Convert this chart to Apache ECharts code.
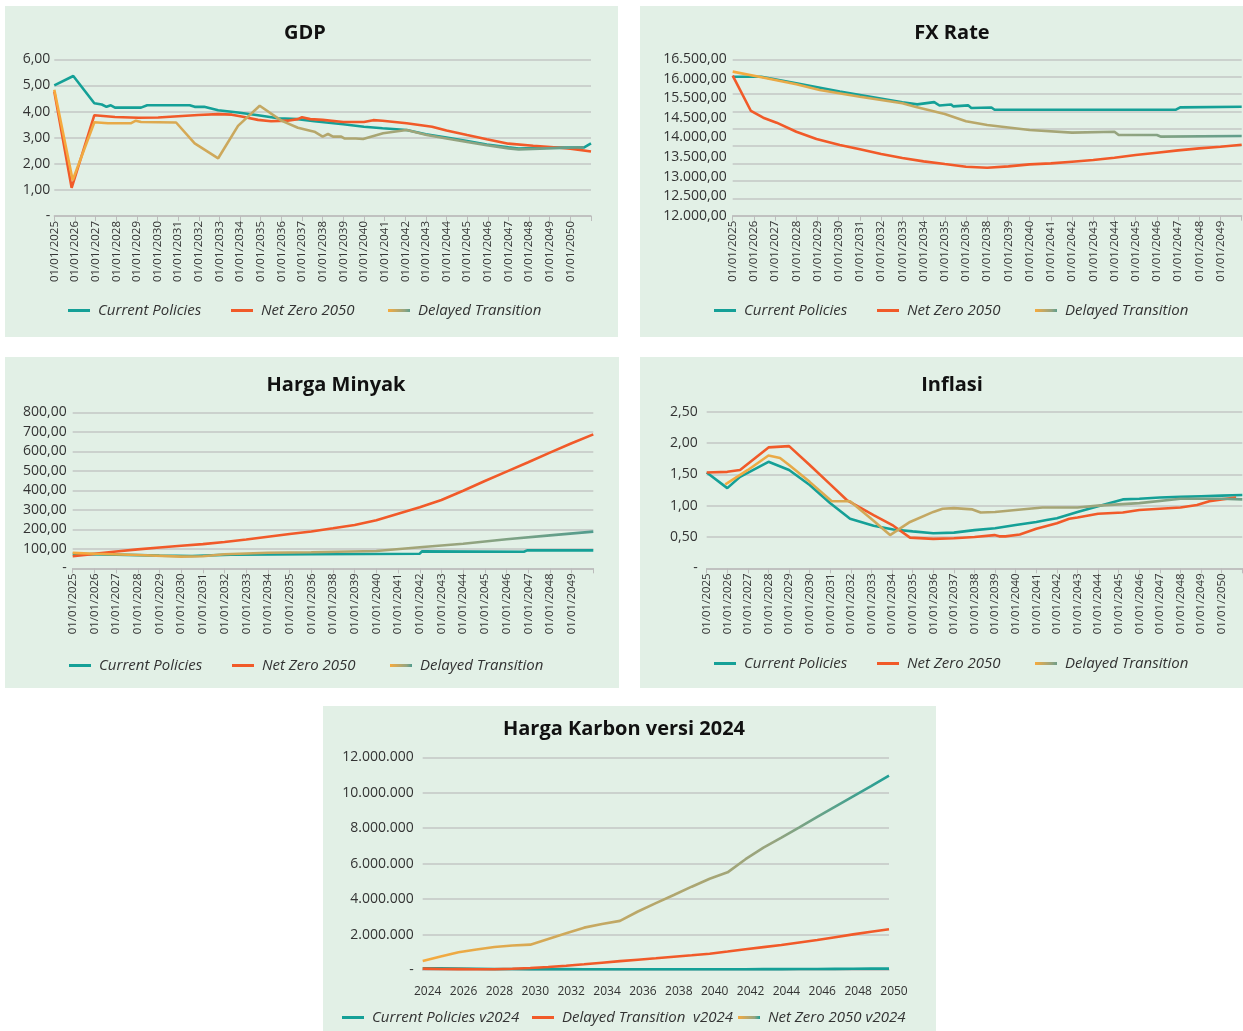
<!DOCTYPE html>
<html>
<head>
<meta charset="utf-8">
<script src="https://cdn.jsdelivr.net/npm/echarts@6/dist/echarts.min.js"></script>
<style>
  html, body { margin: 0; padding: 0; background: #ffffff; width: 1243px; height: 1031px; overflow: hidden; }
  .panel { position: absolute; background: #e2f0e6; }
</style>
</head>
<body>
<div id="gdp" class="panel" style="left:5px;top:6px;width:613px;height:331px"></div>
<div id="fx" class="panel" style="left:640px;top:6px;width:603px;height:331px"></div>
<div id="oil" class="panel" style="left:5px;top:357px;width:614px;height:331px"></div>
<div id="inf" class="panel" style="left:640px;top:357px;width:603px;height:331px"></div>
<div id="carbon" class="panel" style="left:323px;top:706px;width:613px;height:325px"></div>
<script>
// ---------- scenario names ----------
const SCENARIOS = ['Current Policies', 'Net Zero 2050', 'Delayed Transition'];
const CARBON_SCENARIOS = ['Current Policies v2024', 'Delayed Transition  v2024', 'Net Zero 2050 v2024'];

// ---------- date-axis tick labels (one slot per label, x = slot position) ----------
const GDP_X_YEARS = [2025, 2026, 2027, 2028, 2029, 2030, 2031, 2032, 2033, 2034, 2035, 2036, 2037,
  2038, 2039, 2040, 2041, 2042, 2043, 2044, 2045, 2046, 2047, 2048, 2049, 2050];
const FX_X_YEARS = [2025, 2026, 2027, 2028, 2029, 2030, 2031, 2032, 2033, 2034, 2035, 2036,
  2038, 2039, 2040, 2041, 2042, 2043, 2044, 2045, 2046, 2047, 2048, 2049];
const OIL_X_YEARS = [2025, 2026, 2027, 2028, 2029, 2030, 2031, 2032, 2033, 2034, 2035, 2036,
  2038, 2039, 2040, 2041, 2042, 2043, 2044, 2045, 2046, 2047, 2048, 2049];
const INF_X_YEARS = [2025, 2026, 2027, 2028, 2029, 2030, 2031, 2032, 2033, 2034, 2035, 2036, 2037,
  2038, 2039, 2040, 2041, 2042, 2043, 2044, 2045, 2046, 2047, 2048, 2049, 2050];
const CARBON_YEARS = ['2024', '2025', '2026', '2027', '2028', '2029', '2030', '2031', '2032', '2033',
  '2034', '2035', '2036', '2037', '2038', '2039', '2040', '2041', '2042', '2043', '2044', '2045',
  '2046', '2047', '2048', '2049', '2050'];

// ---------- value-axis tick labels (bottom to top) ----------
const GDP_Y_TICKS = ['-', '1,00', '2,00', '3,00', '4,00', '5,00', '6,00'];
const FX_Y_TICKS = ['12.000,00', '12.500,00', '13.000,00', '13.500,00', '14.000,00', '14.500,00',
  '15.500,00', '16.000,00', '16.500,00'];
const OIL_Y_TICKS = ['-', '100,00', '200,00', '300,00', '400,00', '500,00', '600,00', '700,00', '800,00'];
const INF_Y_TICKS = ['-', '0,50', '1,00', '1,50', '2,00', '2,50'];
const CARBON_Y_TICKS = ['-', '2.000.000', '4.000.000', '6.000.000', '8.000.000', '10.000.000', '12.000.000'];

// ---------- GDP (% growth), [slot, value] ----------
const GDP_CURRENT = [[0, 5.00], [0.92, 5.36], [1.94, 4.32], [2.3, 4.27], [2.53, 4.18], [2.74, 4.24],
  [2.94, 4.15], [4.2, 4.15], [4.5, 4.24], [6.56, 4.24], [6.8, 4.18], [7.26, 4.18], [7.94, 4.05],
  [8.9, 3.96], [9.87, 3.86], [10.84, 3.74], [11.8, 3.71], [12.6, 3.63], [14.0, 3.51], [15.0, 3.42],
  [15.9, 3.36], [17.07, 3.29], [18.0, 3.13], [19.0, 3.00], [20.0, 2.87], [20.95, 2.74], [22.0, 2.63],
  [22.5, 2.58], [23.2, 2.60], [24.2, 2.62], [25.65, 2.62], [26.0, 2.78]];
const GDP_NZ = [[0, 4.77], [0.84, 1.08], [1.94, 3.86], [2.94, 3.79], [4.07, 3.76], [5.03, 3.77],
  [6.0, 3.82], [6.97, 3.87], [7.94, 3.90], [8.6, 3.88], [9.07, 3.81], [9.87, 3.68], [10.5, 3.63],
  [11.3, 3.65], [11.8, 3.71], [12.0, 3.78], [12.4, 3.71], [13.0, 3.68], [14.0, 3.60], [15.0, 3.60],
  [15.45, 3.67], [15.9, 3.65], [17.07, 3.55], [18.3, 3.42], [19.0, 3.27], [20.0, 3.10], [20.95, 2.94],
  [22.0, 2.77], [23.2, 2.69], [24.2, 2.63], [25.0, 2.58], [26.0, 2.47]];
const GDP_DT = [[0, 4.83], [0.89, 1.37], [1.94, 3.59], [2.6, 3.55], [3.7, 3.55], [3.95, 3.65],
  [4.2, 3.60], [5.9, 3.58], [6.8, 2.78], [7.94, 2.21], [8.9, 3.45], [9.95, 4.22], [11.0, 3.65],
  [11.8, 3.38], [12.6, 3.23], [13.0, 3.04], [13.26, 3.14], [13.5, 3.04], [13.9, 3.04], [14.05, 2.97],
  [14.6, 2.97], [14.96, 2.95], [15.93, 3.17], [17.07, 3.29], [18.04, 3.10], [19.0, 2.97], [20.0, 2.83],
  [20.95, 2.71], [22.0, 2.59], [22.5, 2.55], [24.2, 2.60], [25.65, 2.63]];

// ---------- FX rate (IDR per USD), [slot, value] ----------
const FX_CURRENT = [[0, 16000], [1.35, 16000], [3, 15810], [5.05, 15570], [8, 15262], [8.7, 15204],
  [9.5, 15268], [9.75, 15170], [10.3, 15200], [10.4, 15145], [11.1, 15175], [11.25, 15100],
  [12.2, 15115], [12.35, 15050], [20.9, 15050], [21.1, 15118], [24, 15135]];
const FX_NZ = [[0, 16030], [0.86, 15013], [1.44, 14820], [2.07, 14677], [3, 14417], [3.95, 14206],
  [5.05, 14033], [6, 13909], [7, 13775], [8, 13659], [9, 13563], [10, 13486], [11, 13410], [12, 13380],
  [13, 13419], [14, 13477], [15, 13506], [16, 13554], [17, 13602], [18, 13669], [19, 13746],
  [20, 13813], [21, 13880], [22, 13938], [23, 13985], [24, 14043]];
const FX_DT = [[0, 16145], [1.36, 15982], [3, 15780], [4.1, 15617], [6, 15425], [8, 15233],
  [8.6, 15137], [10, 14926], [11, 14715], [12, 14610], [14, 14465], [16, 14390], [18, 14417],
  [18.2, 14321], [20, 14321], [20.2, 14274], [24, 14293]];

// ---------- Oil price (USD/bbl), [slot, value] ----------
const OIL_CURRENT = [[0, 74], [2, 70], [4, 65], [5.5, 63], [7.3, 70], [11, 72], [16, 75], [16.1, 87],
  [20.8, 85], [20.95, 92], [24, 92]];
const OIL_NZ = [[0, 62], [1, 74], [2, 86], [3, 97], [4, 107], [5, 116], [6, 124], [7, 135], [8, 148],
  [9, 162], [10, 176], [11, 189], [12, 205], [13, 222], [14, 246], [15, 280], [16, 313], [17, 350],
  [18, 398], [19, 448], [20, 496], [21, 544], [22, 593], [23, 641], [24, 687]];
const OIL_DT = [[0, 79], [1, 75], [3, 68], [5, 60], [6, 62], [7, 72], [9, 80], [11, 82], [14, 89],
  [16, 108], [18, 126], [20, 149], [22, 169], [24, 188]];

// ---------- Inflation (%), [slot, value] ----------
const INF_CURRENT = [[0, 1.53], [1, 1.28], [1.62, 1.46], [3, 1.70], [4, 1.57], [5, 1.33], [6, 1.04],
  [6.96, 0.79], [8.1, 0.68], [9.06, 0.62], [10, 0.59], [11, 0.56], [12, 0.57], [13, 0.61], [14, 0.64],
  [15, 0.69], [16, 0.74], [16.5, 0.77], [17, 0.80], [18, 0.90], [19, 0.99], [20.2, 1.10], [21, 1.11],
  [22, 1.13], [23, 1.14], [24, 1.15], [25, 1.16], [26, 1.17]];
const INF_NZ = [[0, 1.53], [1, 1.54], [1.62, 1.57], [3, 1.93], [4, 1.95], [5, 1.65], [6, 1.34],
  [6.8, 1.09], [8.1, 0.85], [9.06, 0.68], [9.87, 0.49], [11, 0.47], [12, 0.48], [13, 0.50],
  [13.97, 0.53], [14.2, 0.51], [14.5, 0.51], [15.2, 0.54], [16, 0.63], [17, 0.72], [17.6, 0.79],
  [18, 0.81], [19, 0.87], [20.2, 0.89], [21, 0.93], [22, 0.95], [23, 0.97], [23.8, 1.01], [24.4, 1.07],
  [25, 1.10], [25.7, 1.13]];
const INF_DT = [[0.9, 1.34], [1, 1.36], [2, 1.57], [3, 1.80], [3.56, 1.76], [4, 1.65], [5, 1.38],
  [6.07, 1.07], [6.96, 1.07], [8.1, 0.76], [8.9, 0.53], [9.87, 0.74], [11, 0.90], [11.45, 0.95],
  [12, 0.96], [12.9, 0.94], [13.3, 0.89], [14, 0.90], [15, 0.93], [16.3, 0.97], [18, 0.97], [19, 1.00],
  [21, 1.04], [23, 1.11], [25, 1.11], [26, 1.10]];

// ---------- Carbon price, 2024 vintage (one value per year) ----------
const CARBON_CP = [100000, 90000, 80000, 70000, 60000, 55000, 50000, 50000, 50000, 45000, 45000,
  45000, 45000, 45000, 45000, 45000, 45000, 45000, 45000, 50000, 50000, 55000, 60000, 65000, 70000,
  75000, 80000];
const CARBON_DT = [80000, 60000, 50000, 40000, 40000, 70000, 110000, 170000, 240000, 320000, 410000,
  500000, 580000, 660000, 750000, 830000, 920000, 1040000, 1170000, 1290000, 1410000, 1550000,
  1690000, 1850000, 2010000, 2160000, 2300000];
const CARBON_NZ = [510000, 760000, 1000000, 1160000, 1300000, 1380000, 1430000, 1750000, 2070000,
  2390000, 2600000, 2770000, 3300000, 3770000, 4230000, 4700000, 5150000, 5510000, 6250000, 6900000,
  7470000, 8050000, 8640000, 9220000, 9800000, 10380000, 10970000];

// ---------- styling ----------
const FONT = "'Open Sans', 'DejaVu Sans', sans-serif";
const TEXT = '#333333';
const GRID_LINE = '#c3c7c4';
const TEAL = '#15a097';
const RED = '#f15a29';

function delayedColor(endColor) {
  return new echarts.graphic.LinearGradient(0, 0, 1, 0, [
    { offset: 0, color: '#f7aa3c' },
    { offset: 0.4, color: '#c2a864' },
    { offset: 0.75, color: '#96a47f' },
    { offset: 1, color: endColor }
  ]);
}

function line(name, data, color) {
  return {
    name, type: 'line', data, color,
    symbol: 'none', showSymbol: false, smooth: false,
    lineStyle: { color, width: 2.6 },
    emphasis: { disabled: true },
    animation: false
  };
}

function dateAxis(years, max) {
  const ticks = years.map(y => '01/01/' + y);
  return {
    type: 'value', min: 0, max, interval: 1,
    axisLine: { show: true, lineStyle: { color: '#bcbcbc', width: 1.5 } },
    axisTick: { show: true, length: 5, lineStyle: { color: '#bcbcbc', width: 1 } },
    splitLine: { show: false },
    axisLabel: {
      rotate: 90, margin: 5, fontFamily: FONT, fontSize: 11.5, color: TEXT,
      showMinLabel: true, showMaxLabel: true,
      formatter: v => ticks[Math.round(v)] || ''
    }
  };
}

function valueAxis(min, max, interval, ticks, margin) {
  return {
    type: 'value', min, max, interval,
    axisLine: { show: false }, axisTick: { show: false },
    splitLine: { show: true, lineStyle: { color: GRID_LINE, width: 1.5 } },
    axisLabel: {
      margin, fontFamily: FONT, fontSize: 14, color: TEXT,
      formatter: v => ticks[Math.round((v - min) / interval)]
    }
  };
}

function legends(names, lefts, top) {
  return names.map((n, i) => ({
    data: [n], left: lefts[i], top, padding: 0,
    icon: 'rect', itemWidth: 22, itemHeight: 3, itemGap: 0,
    selectedMode: false,
    textStyle: { fontFamily: FONT, fontStyle: 'italic', fontSize: 15, color: TEXT, padding: [0, 0, 0, 3] }
  }));
}

function title(text, x, top) {
  return {
    text, left: x, top, textAlign: 'center', padding: 0,
    textStyle: { fontFamily: FONT, fontSize: 20, fontWeight: 'bold', color: '#111111' }
  };
}

function render(id, option) {
  const chart = echarts.init(document.getElementById(id), null, { renderer: 'canvas' });
  chart.setOption(Object.assign({ animation: false, backgroundColor: 'transparent' }, option));
}

// ---------- GDP ----------
render('gdp', {
  title: title('GDP', 300, 17),
  grid: { left: 49.3, top: 53.3, width: 536.7, height: 156.7 },
  xAxis: dateAxis(GDP_X_YEARS, 26),
  yAxis: valueAxis(0, 6, 1, GDP_Y_TICKS, 4),
  legend: legends(SCENARIOS, [63, 226, 383], 297),
  series: [
    line(SCENARIOS[0], GDP_CURRENT, TEAL),
    line(SCENARIOS[1], GDP_NZ, RED),
    line(SCENARIOS[2], GDP_DT, delayedColor('#5f9e8c'))
  ]
});

// ---------- FX Rate ----------
const fxGridAxis = valueAxis(12000, 16500, 500, [], 6);
fxGridAxis.axisLabel = { show: false };
const fxLabelAxis = {
  type: 'value', min: 0, max: FX_Y_TICKS.length - 1, interval: 1, position: 'left',
  axisLine: { show: false }, axisTick: { show: false }, splitLine: { show: false },
  axisLabel: { margin: 6, fontFamily: FONT, fontSize: 14, color: TEXT, formatter: v => FX_Y_TICKS[Math.round(v)] }
};
render('fx', {
  title: title('FX Rate', 312, 17),
  grid: { left: 92.7, top: 53.3, width: 509, height: 156.4 },
  xAxis: dateAxis(FX_X_YEARS, 24),
  yAxis: [fxGridAxis, fxLabelAxis],
  legend: legends(SCENARIOS, [74, 237, 395], 297),
  series: [
    line(SCENARIOS[0], FX_CURRENT, TEAL),
    line(SCENARIOS[1], FX_NZ, RED),
    line(SCENARIOS[2], FX_DT, delayedColor('#5f9e8c'))
  ]
});

// ---------- Harga Minyak ----------
render('oil', {
  title: title('Harga Minyak', 331, 18),
  grid: { left: 67.7, top: 55.3, width: 520.6, height: 156 },
  xAxis: dateAxis(OIL_X_YEARS, 24),
  yAxis: valueAxis(0, 800, 100, OIL_Y_TICKS, 6),
  legend: legends(SCENARIOS, [64, 227, 385], 301),
  series: [
    line(SCENARIOS[0], OIL_CURRENT, TEAL),
    line(SCENARIOS[1], OIL_NZ, RED),
    line(SCENARIOS[2], OIL_DT, delayedColor('#4f9c8e'))
  ]
});

// ---------- Inflasi ----------
render('inf', {
  title: title('Inflasi', 312, 18),
  grid: { left: 66.7, top: 54.7, width: 535.6, height: 156.6 },
  xAxis: dateAxis(INF_X_YEARS, 26),
  yAxis: valueAxis(0, 2.5, 0.5, INF_Y_TICKS, 9),
  legend: legends(SCENARIOS, [74, 237, 395], 299),
  series: [
    line(SCENARIOS[0], INF_CURRENT, TEAL),
    line(SCENARIOS[1], INF_NZ, RED),
    line(SCENARIOS[2], INF_DT, delayedColor('#6f9e88'))
  ]
});

// ---------- Harga Karbon versi 2024 ----------
render('carbon', {
  title: title('Harga Karbon versi 2024', 301, 13),
  grid: { left: 99.7, top: 51.3, width: 466.3, height: 212.7 },
  xAxis: {
    type: 'category', data: CARBON_YEARS, boundaryGap: false,
    axisLine: { show: true, lineStyle: { color: GRID_LINE, width: 1.5 } },
    axisTick: { show: false },
    axisLabel: { interval: 1, margin: 16, padding: [0, 0, 0, 10], fontFamily: FONT, fontSize: 12, color: TEXT }
  },
  yAxis: valueAxis(0, 12000000, 2000000, CARBON_Y_TICKS, 9),
  legend: legends(CARBON_SCENARIOS, [19, 209, 415], 304),
  series: [
    line(CARBON_SCENARIOS[0], CARBON_CP, TEAL),
    line(CARBON_SCENARIOS[1], CARBON_DT, RED),
    line(CARBON_SCENARIOS[2], CARBON_NZ, delayedColor('#1f9f96'))
  ]
});
</script>
</body>
</html>
